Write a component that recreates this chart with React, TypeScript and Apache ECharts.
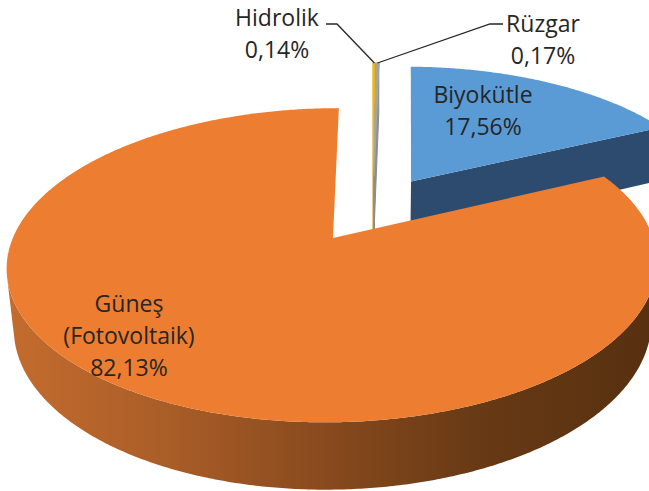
import React, { useEffect, useRef } from "react";
import * as echarts from "echarts";

// ---- data ----
const categories: string[] = ["Hidrolik", "Rüzgar", "Biyokütle", "Güneş\n(Fotovoltaik)"];
const values: number[] = [0.14, 0.17, 17.56, 82.13];

// ---- styles / layout (not data) ----
const topColors = ["#F2B70C", "#A5A5A5", "#5B9BD5", "#ED7D31"];
const faceColors = ["#D4A017", "#8C8C8C", "#2D4B6E", "#B8632A"];
const CAM = { cx: 373, cy: 208.7, f: 1640, D: 5.3, tilt: 27.4, H: 0.215, explode: 0.235, startAngle: 90 };
const LABEL_POS: { x: number; y: number; leader?: number[][] }[] = [
  { x: 277, y: 33, leader: [[337, 24], [326, 24]] },
  { x: 543, y: 39, leader: [[490, 24], [503, 24]] },
  { x: 483, y: 110 },
  { x: 129, y: 335 },
];
const FONT = '"Open Sans", "Noto Sans", sans-serif';

const rad = Math.PI / 180;
const sA = Math.sin(CAM.tilt * rad);
const cA = Math.cos(CAM.tilt * rad);

function proj(X: number, Y: number, Z: number): number[] {
  const u = Y * cA + Z * sA;
  const w = CAM.D + Z * cA - Y * sA;
  return [CAM.cx + (CAM.f * X) / w, CAM.cy - (CAM.f * u) / w];
}

const total = values.reduce((a, b) => a + b, 0);
const sliceAngles: number[][] = [];
{
  let cum = 0;
  values.forEach((v) => {
    const end = CAM.startAngle - (cum / total) * 360;
    const start = end - (v / total) * 360;
    sliceAngles.push([start, end]);
    cum += v;
  });
}
// painter order: farther (back) slices first
const order: number[] = (() => {
  const idx = values.map((_, i) => i);
  idx.sort((a, b) => {
    const ma = ((sliceAngles[a][0] + sliceAngles[a][1]) / 2) * rad;
    const mb = ((sliceAngles[b][0] + sliceAngles[b][1]) / 2) * rad;
    return Math.sin(mb) - Math.sin(ma);
  });
  const r: number[] = [];
  idx.forEach((d, k) => (r[d] = k));
  return r;
})();

function fmt(v: number) {
  return v.toFixed(2).replace(".", ",") + "%";
}

function renderItem(params: any, api: any) {
  const i = params.dataIndex;
  const a0 = api.value(1) as number;
  const a1 = api.value(2) as number;
  const H = CAM.H;
  const mid = ((a0 + a1) / 2) * rad;
  const ox = CAM.explode * Math.cos(mid);
  const oz = CAM.explode * Math.sin(mid);
  const rim = (t: number, Y: number) => proj(ox + Math.cos(t * rad), Y, oz + Math.sin(t * rad));
  const camZ = -CAM.D * cA;
  const base = order[i] * 10;
  const children: any[] = [];

  // outer wall
  const step = 0.5;
  const n = Math.max(2, Math.ceil((a1 - a0) / step));
  let run: number[] = [];
  const wallFill =
    i === 3
      ? new echarts.graphic.LinearGradient(0, 0, 1, 0, [
          { offset: 0, color: "#C46C2E" },
          { offset: 0.25, color: "#A95D27" },
          { offset: 0.5, color: "#87491D" },
          { offset: 0.72, color: "#683A15" },
          { offset: 1, color: "#573010" },
        ])
      : faceColors[i];
  const flush = () => {
    if (run.length >= 2) {
      const pts = run.map((t) => rim(t, 0)).concat(run.slice().reverse().map((t) => rim(t, -H)));
      children.push({ type: "polygon", shape: { points: pts }, style: { fill: wallFill }, z2: base + 1 });
    }
    run = [];
  };
  for (let k = 0; k <= n; k++) {
    const t = a0 + ((a1 - a0) * k) / n;
    const ct = Math.cos(t * rad);
    const st = Math.sin(t * rad);
    const px = ox + ct;
    const pz = oz + st;
    const dot = ct * (0 - px) + st * (camZ - pz);
    if (dot > 0) run.push(t);
    else flush();
  }
  flush();

  // cut faces
  const apexT = proj(ox, 0, oz);
  const apexB = proj(ox, -H, oz);
  const faceDot = (nx: number, nz: number) => nx * (0 - ox) + nz * (camZ - oz);
  const thin = a1 - a0 < 2;
  const faces: [number, number, number][] = [
    [a0, Math.sin(a0 * rad), -Math.cos(a0 * rad)],
    [a1, -Math.sin(a1 * rad), Math.cos(a1 * rad)],
  ];
  faces.forEach(([t, nx, nz]) => {
    if (!thin && faceDot(nx, nz) < 0.3) return;
    children.push({
      type: "polygon",
      shape: { points: [apexT, rim(t, 0), rim(t, -H), apexB] },
      style: { fill: faceColors[i], stroke: thin ? faceColors[i] : undefined, lineWidth: thin ? 1 : 0 },
      z2: base + 2,
    });
  });

  // top face
  const topPts: number[][] = [apexT];
  for (let k = 0; k <= n; k++) topPts.push(rim(a0 + ((a1 - a0) * k) / n, 0));
  children.push({
    type: "polygon",
    shape: { points: topPts },
    style: { fill: topColors[i], stroke: thin ? topColors[i] : undefined, lineWidth: thin ? 1.2 : 0 },
    z2: base + 3,
  });

  // label
  const lp = LABEL_POS[i];
  if (lp.leader) {
    const start = rim((a0 + a1) / 2, 0);
    children.push({
      type: "polyline",
      shape: { points: [start, ...lp.leader] },
      style: { stroke: "#262626", lineWidth: 1.3, fill: "none" },
      z2: 200,
    });
  }
  children.push({
    type: "text",
    style: {
      text: categories[i] + "\n" + fmt(values[i]),
      x: lp.x,
      y: lp.y,
      fill: "#262626",
      fontSize: 23,
      fontFamily: FONT,
      align: "center",
      verticalAlign: "middle",
      lineHeight: 32,
    },
    z2: 210,
  });

  return { type: "group", children };
}

export default function App() {
  const ref = useRef<HTMLDivElement>(null);
  useEffect(() => {
    if (!ref.current) return;
    const chart = echarts.init(ref.current, undefined, { renderer: "svg" });
    chart.setOption({
      animation: false,
      backgroundColor: "#ffffff",
      series: [
        {
          type: "custom",
          coordinateSystem: "none",
          silent: true,
          renderItem,
          data: values.map((v, i) => [v, sliceAngles[i][0], sliceAngles[i][1]]),
        },
      ],
    });
    return () => chart.dispose();
  }, []);
  return <div ref={ref} style={{ position: "fixed", left: 0, top: 0, width: 649, height: 491 }} />;
}
